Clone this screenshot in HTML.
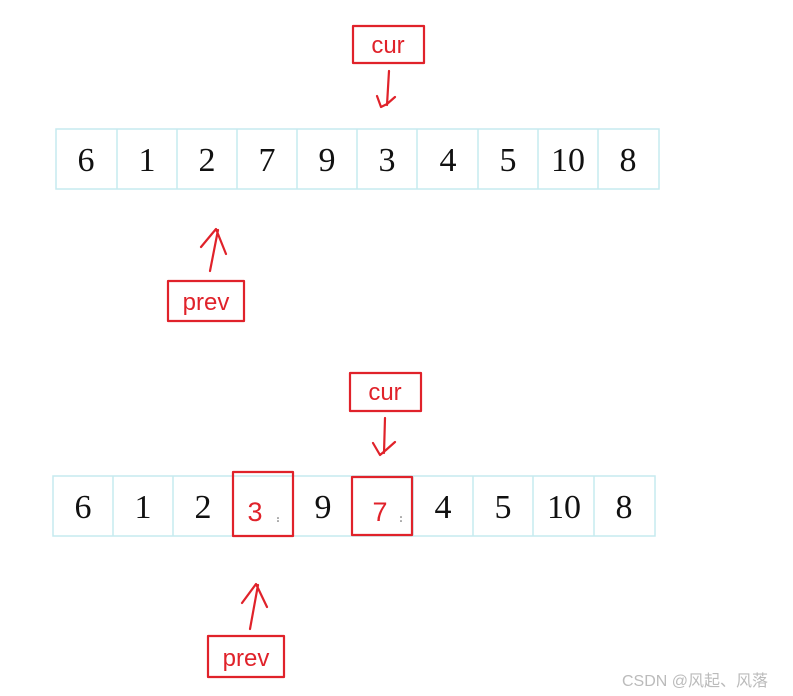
<!DOCTYPE html>
<html><head><meta charset="utf-8"><style>
html,body{margin:0;padding:0;background:#fff;width:793px;height:696px;overflow:hidden}
svg{display:block}
.d{font-family:"Liberation Serif",serif;font-size:34px;fill:#111;text-anchor:middle}
.r{font-family:"Liberation Sans",sans-serif;font-size:24px;fill:#e0222a;text-anchor:middle}
</style></head><body>
<svg width="793" height="696" viewBox="0 0 793 696" xmlns="http://www.w3.org/2000/svg">
<g fill="none" stroke="#c6eaef" stroke-width="1.5">
<rect x="56" y="129" width="603" height="60"/>
<line x1="117" y1="129" x2="117" y2="189"/><line x1="177" y1="129" x2="177" y2="189"/>
<line x1="237" y1="129" x2="237" y2="189"/><line x1="297" y1="129" x2="297" y2="189"/>
<line x1="357" y1="129" x2="357" y2="189"/><line x1="417" y1="129" x2="417" y2="189"/>
<line x1="478" y1="129" x2="478" y2="189"/><line x1="538" y1="129" x2="538" y2="189"/>
<line x1="598" y1="129" x2="598" y2="189"/>
<rect x="53" y="476" width="602" height="60"/>
<line x1="113" y1="476" x2="113" y2="536"/><line x1="173" y1="476" x2="173" y2="536"/>
<line x1="293" y1="476" x2="293" y2="536"/>
<line x1="413" y1="476" x2="413" y2="536"/><line x1="473" y1="476" x2="473" y2="536"/>
<line x1="533" y1="476" x2="533" y2="536"/><line x1="594" y1="476" x2="594" y2="536"/>
</g>
<g class="d">
<text x="86" y="171">6</text><text x="147" y="171">1</text><text x="207" y="171">2</text>
<text x="267" y="171">7</text><text x="327" y="171">9</text><text x="387" y="171">3</text>
<text x="448" y="171">4</text><text x="508" y="171">5</text><text x="568" y="171">10</text>
<text x="628" y="171">8</text>
<text x="83" y="518">6</text><text x="143" y="518">1</text><text x="203" y="518">2</text>
<text x="323" y="518">9</text><text x="443" y="518">4</text><text x="503" y="518">5</text>
<text x="564" y="518">10</text><text x="624" y="518">8</text>
</g>
<g fill="none" stroke="#e0222a" stroke-width="2.2" stroke-linecap="round" stroke-linejoin="round">
<rect x="353" y="26" width="71" height="37"/>
<path d="M389 71 L387 105 M377 96 L381 107 L387 104 L395 97"/>
<rect x="168" y="281" width="76" height="40"/>
<path d="M210 271 L218 230 M201 247 L216 229 L226 254"/>
<rect x="350" y="373" width="71" height="38"/>
<path d="M385 418 L384 453 M373 443 L380 455 L386 450 L395 442"/>
<rect x="233" y="472" width="60" height="64"/>
<rect x="352" y="477" width="60" height="58"/>
<rect x="208" y="636" width="76" height="41"/>
<path d="M250 629 L258 585 M242 603 L256 584 L267 607"/>
</g>
<g class="r">
<text x="388" y="53">cur</text>
<text x="206" y="310">prev</text>
<text x="385" y="400">cur</text>
<text x="246" y="666">prev</text>
<text x="255" y="521" font-size="27">3</text>
<text x="380" y="521" font-size="27">7</text>
</g>
<g fill="#555"><circle cx="278" cy="518" r="0.8"/><circle cx="278" cy="521" r="0.8"/><circle cx="401" cy="517" r="0.8"/><circle cx="401" cy="521" r="0.8"/></g>
<text x="695" y="686" font-family="Liberation Sans,'Noto Sans CJK SC',sans-serif" font-size="16" fill="#bbb" text-anchor="middle">CSDN @风起、风落</text>
</svg>
</body></html>
